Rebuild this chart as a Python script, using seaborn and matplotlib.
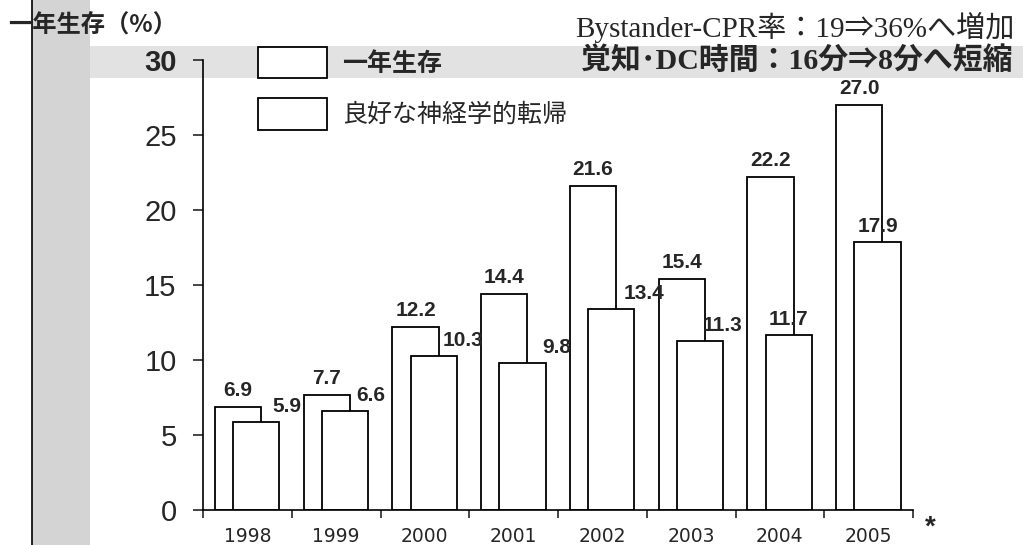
import numpy as np
import matplotlib.pyplot as plt
import matplotlib.patches as mpatches
import seaborn as sns

years = ['1998', '1999', '2000', '2001', '2002', '2003', '2004', '2005']
survival = [6.9, 7.7, 12.2, 14.4, 21.6, 15.4, 22.2, 27.0]
neuro = [5.9, 6.6, 10.3, 9.8, 13.4, 11.3, 11.7, 17.9]
series_names = ['一年生存', '良好な神経学的転帰']
yticks = [0, 5, 10, 15, 20, 25, 30]
# label nudges (pixels) for the second series, as in the original
neuro_dx = [31, 26, 29, 34, 33, 22, 0, 0]

sns.set_theme(style='white')
plt.rcParams['font.family'] = ['Liberation Sans', 'Noto Sans CJK JP']

fig = plt.figure(figsize=(10.23, 5.45), dpi=100)
fig.patch.set_facecolor('white')

# scanned-page decorations
fig.patches.append(mpatches.Rectangle((32 / 1023, 0), 58 / 1023, 1, transform=fig.transFigure,
                                      facecolor='#d4d4d4', edgecolor='none', zorder=-2))
fig.patches.append(mpatches.Rectangle((90 / 1023, 1 - 78 / 545), 933 / 1023, 32 / 545,
                                      transform=fig.transFigure, facecolor='#e2e2e2',
                                      edgecolor='none', zorder=-2))
fig.lines.append(plt.Line2D([32 / 1023, 32 / 1023], [0, 1], transform=fig.transFigure,
                            color='black', lw=1.2, zorder=-1))

ax = fig.add_axes([203 / 1023, 1 - 510 / 545, 710 / 1023, 450 / 545])
ax.set_facecolor('none')
ax.set_zorder(2)

w = 0.52
sns.barplot(x=years, y=survival, color='white', edgecolor='black', linewidth=1.3,
            width=w, saturation=1, ax=ax)
for p in ax.patches:
    p.set_x(p.get_x() - 0.105)
n1 = len(ax.patches)
sns.barplot(x=years, y=neuro, color='white', edgecolor='black', linewidth=1.3,
            width=w, saturation=1, ax=ax)
for p in ax.patches[n1:]:
    p.set_x(p.get_x() + 0.1)

for i, v in enumerate(survival):
    ax.annotate(f'{v:.1f}', (i - 0.105, v), xytext=(0, 5), textcoords='offset points',
                ha='center', va='bottom', fontsize=15, fontweight='bold')
for i, v in enumerate(neuro):
    ax.annotate(f'{v:.1f}', (i + 0.1, v), xytext=(neuro_dx[i] * 0.72, 4),
                textcoords='offset points', ha='center', va='bottom',
                fontsize=15, fontweight='bold')

ax.set_xlim(-0.5, 7.5)
ax.set_ylim(0, 30)
ax.set_yticks(yticks)
ax.set_yticklabels([str(t) for t in yticks], fontsize=21)
ax.get_yticklabels()[-1].set_fontweight('bold')
ax.tick_params(axis='y', direction='out', length=7, width=1.2, pad=12, left=True)
ax.set_xticks(np.arange(len(years)))
ax.set_xticklabels(years, family='DejaVu Sans', fontsize=13.5)
ax.tick_params(axis='x', which='major', length=0, pad=12)
ax.set_xticks(np.arange(len(years) + 1) - 0.5, minor=True)
ax.tick_params(axis='x', which='minor', direction='out', length=6, width=1.2, bottom=True)
for s in ['top', 'right']:
    ax.spines[s].set_visible(False)
for s in ['left', 'bottom']:
    ax.spines[s].set_color('black')
    ax.spines[s].set_linewidth(1.2)
ax.set_xlabel('')
ax.set_ylabel('')

handles = [mpatches.Patch(facecolor='white', edgecolor='black', linewidth=1.3) for _ in series_names]
leg = fig.legend(handles, series_names, loc='upper left',
                 bbox_to_anchor=(258 / 1023, 1 - 47 / 545), frameon=False,
                 fontsize=18, handlelength=2.75, handleheight=1.55,
                 labelspacing=0.8, handletextpad=0.6, borderpad=0, borderaxespad=0)
leg.get_texts()[0].set_fontweight('bold')
leg.set_zorder(3)

fig.text(8 / 1023, 1 - 25 / 545, '一年生存（%）', fontsize=17.5, fontweight='bold',
         family=['Noto Sans CJK JP', 'DejaVu Sans'], va='center', ha='left')
fig.text(1015 / 1023, 1 - 27 / 545, 'Bystander-CPR率：19⇒36%へ増加', fontsize=21,
         family=['Liberation Serif', 'Noto Sans CJK JP', 'DejaVu Sans'], va='center', ha='right')
fig.text(1012 / 1023, 1 - 61 / 545, '覚知･DC時間：16分⇒8分へ短縮', fontsize=21.5,
         fontweight='bold', family=['Liberation Serif', 'Noto Sans CJK JP', 'DejaVu Sans'],
         va='center', ha='right')
fig.text(930 / 1023, 1 - 528 / 545, '*', fontsize=20, fontweight='bold', va='center', ha='center')

fig.savefig('out.png', dpi=100)
